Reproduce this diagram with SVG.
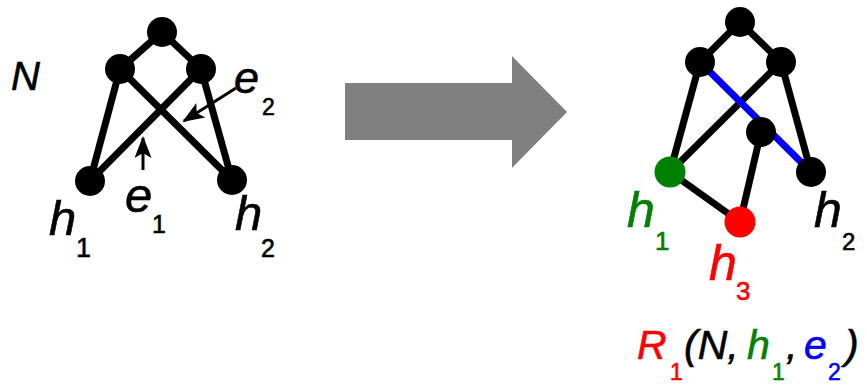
<svg xmlns="http://www.w3.org/2000/svg" width="867" height="386" viewBox="0 0 867 386">
<style>
.e{stroke:#000;stroke-width:7;fill:none}
.b{stroke:#0000FF;stroke-width:7;fill:none}
.n{fill:#000}
.t{font-family:"Liberation Sans",Arial,sans-serif;font-style:italic;stroke-width:0.6}
.s{font-family:"Liberation Sans",Arial,sans-serif;font-style:normal}
.k{fill:#000;stroke:#000}
.g{fill:#008000;stroke:#008000}
.r{fill:#FF0000;stroke:#FF0000}
.u{fill:#0000FF;stroke:#0000FF}
.pt{stroke:#000;stroke-width:3;fill:none}
</style>
<defs>
<marker id="ah" viewBox="0 0 22 17" refX="20" refY="8.5" markerWidth="22" markerHeight="17" markerUnits="userSpaceOnUse" orient="auto">
<path d="M0,0 L22,8.5 L0,17 L5,8.5 Z" fill="#000"/>
</marker>
</defs>
<rect width="867" height="386" fill="#fff"/>
<g id="connectors">
<line class="e" x1="162" y1="32" x2="120" y2="69"/>
<line class="e" x1="162" y1="32" x2="201" y2="69"/>
<line class="e" x1="120" y1="69" x2="90" y2="181"/>
<line class="e" x1="120" y1="69" x2="232" y2="180"/>
<line class="e" x1="201" y1="69" x2="90" y2="181"/>
<line class="e" x1="201" y1="69" x2="232" y2="180"/>
<line class="pt" x1="143" y1="170" x2="143" y2="138" marker-end="url(#ah)"/>
<line class="pt" x1="236" y1="88" x2="184" y2="121" marker-end="url(#ah)"/>
<line class="e" x1="740" y1="22" x2="700" y2="62"/>
<line class="e" x1="740" y1="22" x2="781" y2="62"/>
<line class="e" x1="700" y1="62" x2="670" y2="172"/>
<line class="e" x1="781" y1="62" x2="670" y2="172"/>
<line class="e" x1="781" y1="62" x2="811" y2="172"/>
<line class="b" x1="700" y1="62" x2="811" y2="172"/>
<line class="e" x1="761" y1="132" x2="740" y2="222"/>
<line class="e" x1="670" y1="172" x2="740" y2="222"/>
</g>
<g id="big-arrow">
<polygon points="345,83 512,83 512,56 567,112 512,168 512,140 345,140" fill="#808080"/>
</g>
<g id="N-top"><circle class="n" cx="162" cy="32" r="15"/></g>
<g id="N-left"><circle class="n" cx="120" cy="69" r="15"/></g>
<g id="N-right"><circle class="n" cx="201" cy="69" r="15"/></g>
<g id="N-h1"><circle class="n" cx="90" cy="181" r="15"/></g>
<g id="N-h2"><circle class="n" cx="232" cy="180" r="15"/></g>
<g id="R-top"><circle class="n" cx="740" cy="22" r="15"/></g>
<g id="R-left"><circle class="n" cx="700" cy="62" r="15"/></g>
<g id="R-right"><circle class="n" cx="781" cy="62" r="15"/></g>
<g id="R-inner"><circle class="n" cx="761" cy="132" r="15"/></g>
<g id="R-h1"><circle cx="670" cy="172" r="15.5" fill="#008000"/></g>
<g id="R-h2"><circle class="n" cx="811" cy="172" r="15"/></g>
<g id="R-h3"><circle cx="740" cy="222" r="15.5" fill="#FF0000"/></g>
<g id="labels">
<text class="t k" x="11" y="90" font-size="40">N</text>
<text class="t k" x="234" y="93" font-size="45">e<tspan class="s" x="262" y="115" font-size="23">2</tspan></text>
<text class="t k" x="125" y="212" font-size="49">e<tspan class="s" x="152" y="233" font-size="25">1</tspan></text>
<text class="t k" x="49" y="235" font-size="49">h<tspan class="s" x="76" y="257" font-size="27">1</tspan></text>
<text class="t k" x="235" y="230" font-size="49">h<tspan class="s" x="261" y="257" font-size="25">2</tspan></text>
<text class="t g" x="627" y="227" font-size="50">h<tspan class="s" x="655" y="250" font-size="26">1</tspan></text>
<text class="t r" x="709" y="280" font-size="50">h<tspan class="s" x="736" y="300" font-size="26">3</tspan></text>
<text class="t k" x="814" y="227" font-size="50">h<tspan class="s" x="842" y="250" font-size="24">2</tspan></text>
<text class="t k" x="637" y="359" font-size="41"><tspan class="r">R</tspan><tspan class="s r" x="670" y="380" font-size="23">1</tspan><tspan x="684" y="359">(N,</tspan><tspan class="g" x="747">h</tspan><tspan class="s g" x="772" y="380" font-size="23">1</tspan><tspan x="786" y="359">,</tspan><tspan class="u" x="804">e</tspan><tspan class="s u" x="828" y="380" font-size="23">2</tspan><tspan x="845" y="359">)</tspan></text>
</g>
</svg>
